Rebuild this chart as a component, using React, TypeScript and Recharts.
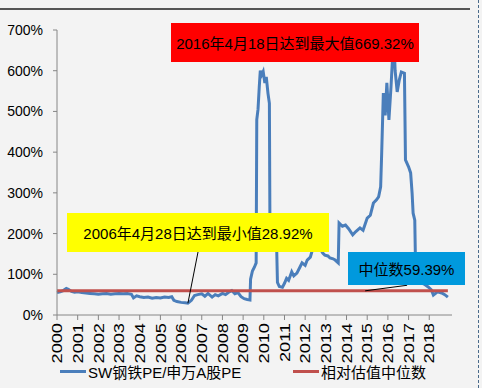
import React from "react";
import { LineChart, Line, XAxis, YAxis, ReferenceLine } from "recharts";

// date as fractional year, ratio in %
const years = [
  2000.0, 2000.15, 2000.3, 2000.45, 2000.55, 2000.7, 2000.85, 2001.0, 2001.2, 2001.4,
  2001.6, 2001.8, 2002.0, 2002.2, 2002.4, 2002.6, 2002.8, 2003.0, 2003.2, 2003.4,
  2003.6, 2003.7, 2003.85, 2004.0, 2004.2, 2004.4, 2004.6, 2004.8, 2005.0, 2005.2,
  2005.4, 2005.55, 2005.65, 2005.8, 2006.0, 2006.2, 2006.33, 2006.5, 2006.65, 2006.8,
  2007.0, 2007.15, 2007.3, 2007.5, 2007.65, 2007.8, 2008.0, 2008.15, 2008.3, 2008.45,
  2008.6, 2008.75, 2008.9, 2009.05, 2009.2, 2009.33, 2009.36, 2009.45, 2009.55, 2009.63,
  2009.66, 2009.72, 2009.78, 2009.83, 2009.9, 2009.97, 2010.05, 2010.12, 2010.2, 2010.27,
  2010.3, 2010.4, 2010.55, 2010.62, 2010.66, 2010.75, 2010.9, 2011.0, 2011.1, 2011.2,
  2011.35, 2011.45, 2011.6, 2011.75, 2011.85, 2012.0, 2012.1, 2012.25, 2012.35, 2012.4,
  2012.5, 2012.6, 2012.7, 2012.85, 2012.95, 2013.1, 2013.2, 2013.35, 2013.45, 2013.6,
  2013.64, 2013.8, 2013.95, 2014.1, 2014.3, 2014.45, 2014.65, 2014.8, 2015.0, 2015.15,
  2015.3, 2015.45, 2015.55, 2015.65, 2015.7, 2015.78, 2015.87, 2015.95, 2016.05, 2016.15,
  2016.22, 2016.3, 2016.35, 2016.45, 2016.55, 2016.65, 2016.8, 2016.85, 2017.0, 2017.1,
  2017.17, 2017.22, 2017.3, 2017.35, 2017.55, 2017.75, 2017.95, 2018.1, 2018.2, 2018.4,
  2018.6, 2018.75, 2018.9,
];
const ratio = [
  55, 57, 60, 65, 63, 58, 56, 57, 55, 54,
  53, 52, 51, 52, 53, 51, 52, 53, 52, 53,
  51, 42, 47, 45, 43, 44, 41, 43, 42, 44,
  43, 45, 36, 33, 31, 30, 28.92, 36, 48, 50,
  52, 46, 53, 44, 50, 47, 53, 50, 56, 60,
  52, 55, 45, 40, 38, 37, 88, 108, 118, 128,
  480, 505, 560, 600, 590, 598, 570, 585, 545, 520,
  180, 175, 178, 170, 80, 70, 68, 78, 90, 85,
  106, 96, 103, 118, 128, 122, 135, 142, 160, 184,
  165, 160, 165, 152, 147, 145, 140, 138, 135, 128,
  226, 218, 221, 212, 197, 205, 214, 208, 238, 245,
  275, 283, 290, 315, 398, 545, 490, 570, 479, 560,
  627, 669.32, 600, 548, 577, 597, 594, 381, 364, 349,
  300, 250, 233, 79, 80, 76, 69, 62, 49, 57,
  54, 50, 44,
];
const medianValue = 59.39;
const xTicks = [2000, 2001, 2002, 2003, 2004, 2005, 2006, 2007, 2008, 2009, 2010, 2011, 2012, 2013, 2014, 2015, 2016, 2017, 2018];
const yTicks = [0, 100, 200, 300, 400, 500, 600, 700];

const seriesNames = ["SW钢铁PE/申万A股PE", "相对估值中位数"];
const COLORS = { ratio: "#4a7ebb", median: "#c0504d" };

const data = years.map((t, i) => ({ t, ratio: ratio[i], median: medianValue }));

const FONT = '"Liberation Sans", Arial, "Noto Sans CJK SC", sans-serif';

const YearTick = (props: any) => {
  const { x, y, payload } = props;
  return (
    <text
      transform={`translate(${x},${y + 1}) rotate(-90) scale(1.3,1)`}
      textAnchor="end"
      dominantBaseline="central"
      fontSize={14}
      fill="#000"
      fontFamily={FONT}
    >
      {payload.value}
    </text>
  );
};

const boxText: React.CSSProperties = {
  position: "absolute",
  display: "flex",
  alignItems: "center",
  justifyContent: "center",
  fontSize: 15,
  color: "#000",
  fontFamily: FONT,
};

export default function App() {
  return (
    <div style={{ position: "absolute", left: 0, top: 0, width: 482, height: 388, background: "#f3f3f3", overflow: "hidden", fontFamily: FONT }}>
      <div style={{ position: "absolute", left: 0, top: 8, width: 470, height: 2, background: "#555" }} />
      <div style={{ position: "absolute", left: 478, top: 0, width: 0, height: 388, borderLeft: "1px dashed #4a6a8a" }} />
      <LineChart width={482} height={388} data={data} margin={{ top: 30, right: 30, bottom: 23, left: 0 }}>
        <XAxis
          dataKey="t"
          type="number"
          domain={[2000, 2019.1]}
          ticks={xTicks}
          interval={0}
          height={50}
          tick={<YearTick />}
          tickLine={{ stroke: "#868686" }}
          tickSize={5}
          axisLine={{ stroke: "#868686" }}
        />
        <YAxis
          domain={[0, 700]}
          ticks={yTicks}
          width={57}
          tickFormatter={(v) => `${v}%`}
          tick={{ fill: "#000", fontSize: 14, fontFamily: FONT }}
          tickLine={{ stroke: "#868686" }}
          tickSize={4}
          tickMargin={10}
          axisLine={{ stroke: "#868686" }}
        />
        <Line type="linear" dataKey="ratio" stroke={COLORS.ratio} strokeWidth={3} dot={false} isAnimationActive={false} />
        <Line type="linear" dataKey="median" stroke={COLORS.median} strokeWidth={3} dot={false} isAnimationActive={false} />
        <ReferenceLine segment={[{ x: 2006.82, y: 155 }, { x: 2006.33, y: 28.92 }]} stroke="#000" strokeWidth={1} ifOverflow="visible" />
        <ReferenceLine segment={[{ x: 2016.93, y: 73 }, { x: 2014.9, y: 59.39 }]} stroke="#000" strokeWidth={1} ifOverflow="visible" />
      </LineChart>

      <div style={{ ...boxText, left: 171, top: 23, width: 248, height: 39, background: "#ff0000" }}>
        2016年4月18日达到最大值669.32%
      </div>
      <div style={{ ...boxText, left: 67, top: 213, width: 262, height: 39, background: "#ffff00" }}>
        2006年4月28日达到最小值28.92%
      </div>
      <div style={{ ...boxText, left: 348, top: 252, width: 117, height: 33, background: "#0099dd" }}>
        中位数59.39%
      </div>

      <div style={{ position: "absolute", left: 60, top: 361, display: "flex", alignItems: "center", fontSize: 15, color: "#000" }}>
        <div style={{ width: 26, height: 3, background: COLORS.ratio, marginRight: 2 }} />
        <span>{seriesNames[0]}</span>
      </div>
      <div style={{ position: "absolute", left: 293, top: 361, display: "flex", alignItems: "center", fontSize: 15, color: "#000" }}>
        <div style={{ width: 26, height: 3, background: COLORS.median, marginRight: 2 }} />
        <span>{seriesNames[1]}</span>
      </div>
    </div>
  );
}
